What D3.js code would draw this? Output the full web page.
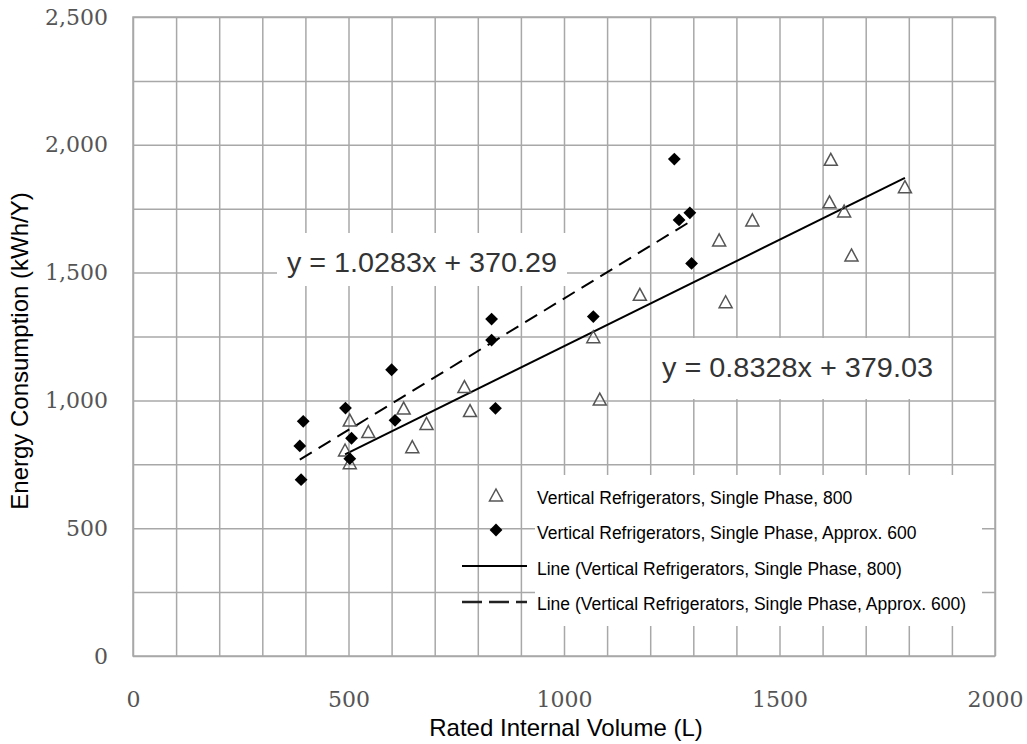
<!DOCTYPE html>
<html>
<head>
<meta charset="utf-8">
<script src="https://cdn.jsdelivr.net/npm/d3@7"></script>
<style>
  body { margin: 0; background: #fff; }
  svg { display: block; }
</style>
</head>
<body>
<svg id="chart" width="1027" height="744"></svg>
<script>
// series "Vertical Refrigerators, Single Phase, 800" (open triangles)
const volume800 = [492, 503, 503, 546, 628, 648, 681, 769, 782, 1068, 1083, 1176, 1360, 1375, 1437, 1616, 1619, 1650, 1667, 1791];
const energy800 = [806, 923, 756, 878, 970, 819, 910, 1054, 960, 1249, 1005, 1415, 1628, 1386, 1706, 1777, 1943, 1741, 1569, 1836];

// series "Vertical Refrigerators, Single Phase, Approx. 600" (filled diamonds)
const volume600 = [387, 390, 395, 493, 503, 507, 600, 608, 832, 832, 841, 1068, 1256, 1267, 1292, 1296];
const energy600 = [822, 690, 918, 970, 772, 852, 1120, 922, 1318, 1236, 969, 1328, 1944, 1706, 1734, 1536];

// trend lines as printed on the chart
const trend800 = { slope: 0.8328, intercept: 379.03 };
const trend600 = { slope: 1.0283, intercept: 370.29 };

const xTicks = [0, 500, 1000, 1500, 2000];
const yTicks = [0, 500, 1000, 1500, 2000, 2500];

const legendLabels = [
  "Vertical Refrigerators, Single Phase, 800",
  "Vertical Refrigerators, Single Phase, Approx. 600",
  "Line (Vertical Refrigerators, Single Phase, 800)",
  "Line (Vertical Refrigerators, Single Phase, Approx. 600)"
];

const svg = d3.select("#chart");
const sans = "'Liberation Sans', Arial, sans-serif";
const serif = "'DejaVu Serif', serif";
const gridColor = "#a8a8a8";

const plotLeft = 133, plotRight = 995, plotTop = 17, plotBottom = 656;

let x = d3.scaleLinear().domain([0, 2000]).range([plotLeft, plotRight]);
let y = d3.scaleLinear().domain([0, 2500]).range([plotBottom, plotTop]);

svg.append("rect").attr("width", 1027).attr("height", 744).attr("fill", "#fff");

// grid
svg.append("g")
  .attr("transform", `translate(0, ${plotBottom})`)
  .call(d3.axisBottom(x).tickValues(d3.range(0, 2001, 100)).tickSize(-(plotBottom - plotTop)).tickFormat(""))
  .call(g => g.select(".domain").remove())
  .selectAll("line").attr("stroke", gridColor).attr("stroke-width", 1.5);

svg.append("g")
  .attr("transform", `translate(${plotLeft}, 0)`)
  .call(d3.axisLeft(y).tickValues(d3.range(0, 2501, 250)).tickSize(-(plotRight - plotLeft)).tickFormat(""))
  .call(g => g.select(".domain").remove())
  .selectAll("line").attr("stroke", gridColor).attr("stroke-width", 1.5);

svg.append("rect")
  .attr("x", plotLeft).attr("y", plotTop)
  .attr("width", plotRight - plotLeft).attr("height", plotBottom - plotTop)
  .attr("fill", "none").attr("stroke", gridColor).attr("stroke-width", 1.5);

// white boxes behind the equations and legend text
const boxes = [
  { x0: 277, y0: 233, x1: 567, y1: 286 },
  { x0: 653, y0: 338, x1: 950, y1: 399 },
  { x0: 535, y0: 475, x1: 982, y1: 626 }
];
svg.selectAll(".box").data(boxes).join("rect")
  .attr("x", d => d.x0).attr("y", d => d.y0)
  .attr("width", d => d.x1 - d.x0).attr("height", d => d.y1 - d.y0)
  .attr("fill", "#fff");

// tick labels
svg.append("g")
  .attr("transform", `translate(${plotLeft}, 0)`)
  .call(d3.axisLeft(y).tickValues(yTicks).tickFormat(d3.format(",")).tickSize(0).tickPadding(25))
  .call(g => g.select(".domain").remove())
  .selectAll("text")
  .attr("font-family", serif).attr("font-size", 22).attr("fill", "#555");

svg.append("g")
  .attr("transform", `translate(0, ${plotBottom})`)
  .call(d3.axisBottom(x).tickValues(xTicks).tickFormat(d3.format("d")).tickSize(0).tickPadding(35))
  .call(g => g.select(".domain").remove())
  .selectAll("text")
  .attr("font-family", serif).attr("font-size", 22).attr("fill", "#555");

// axis titles
svg.append("text")
  .attr("transform", "translate(28, 351) rotate(-90)")
  .attr("text-anchor", "middle")
  .attr("font-family", sans).attr("font-size", 24)
  .text("Energy Consumption (kWh/Y)");

svg.append("text")
  .attr("x", 566).attr("y", 736)
  .attr("text-anchor", "middle")
  .attr("font-family", sans).attr("font-size", 24)
  .text("Rated Internal Volume (L)");

// trend lines
function trendPoints(xs, t) {
  return d3.extent(xs).map(v => [v, t.slope * v + t.intercept]);
}
let line = d3.line().x(d => x(d[0])).y(d => y(d[1]));

svg.append("path")
  .datum(trendPoints(volume800, trend800))
  .attr("d", line)
  .attr("fill", "none").attr("stroke", "#000").attr("stroke-width", 2);

svg.append("path")
  .datum(trendPoints(volume600, trend600))
  .attr("d", line)
  .attr("fill", "none").attr("stroke", "#000").attr("stroke-width", 2)
  .attr("stroke-dasharray", "14,8");

// markers
function triangle(w, h) {
  return `M0,${-h / 2}L${w / 2},${h / 2}L${-w / 2},${h / 2}Z`;
}
let diamond = d3.symbol().type(d3.symbolSquare).size(82)();

svg.append("g").selectAll("path")
  .data(volume800.map((v, i) => [v, energy800[i]]))
  .join("path")
  .attr("d", triangle(13, 12))
  .attr("transform", d => `translate(${x(d[0])}, ${y(d[1])})`)
  .attr("fill", "none").attr("stroke", "#555").attr("stroke-width", 1.5);

svg.append("g").selectAll("path")
  .data(volume600.map((v, i) => [v, energy600[i]]))
  .join("path")
  .attr("d", diamond)
  .attr("transform", d => `translate(${x(d[0])}, ${y(d[1])}) rotate(45)`)
  .attr("fill", "#000");

// equations
const equations = [
  { text: "y = 1.0283x + 370.29", x: 287, y: 272, len: 270 },
  { text: "y = 0.8328x + 379.03", x: 662, y: 377, len: 271 }
];
svg.selectAll(".eq").data(equations).join("text")
  .attr("x", d => d.x).attr("y", d => d.y)
  .attr("textLength", d => d.len).attr("lengthAdjust", "spacingAndGlyphs")
  .attr("font-family", sans).attr("font-size", 28).attr("fill", "#333")
  .text(d => d.text);

// legend
const legendX = 496, legendTextX = 537;
const legendY = [504, 539, 575, 610];
let legend = svg.append("g");

legend.append("path")
  .attr("d", triangle(13, 12))
  .attr("transform", `translate(${legendX}, ${legendY[0] - 9})`)
  .attr("fill", "none").attr("stroke", "#555").attr("stroke-width", 1.5);

legend.append("path")
  .attr("d", diamond)
  .attr("transform", `translate(${legendX}, ${legendY[1] - 9}) rotate(45)`)
  .attr("fill", "#000");

legend.append("line")
  .attr("x1", 462).attr("x2", 527)
  .attr("y1", legendY[2] - 9).attr("y2", legendY[2] - 9)
  .attr("stroke", "#000").attr("stroke-width", 2);

legend.append("line")
  .attr("x1", 462).attr("x2", 527)
  .attr("y1", legendY[3] - 8).attr("y2", legendY[3] - 8)
  .attr("stroke", "#222").attr("stroke-width", 2.5)
  .attr("stroke-dasharray", "20,7");

legend.selectAll(".lt").data(legendLabels).join("text")
  .attr("x", legendTextX)
  .attr("y", (d, i) => legendY[i])
  .attr("font-family", sans).attr("font-size", 17.5).attr("fill", "#000")
  .text(d => d);
</script>
</body>
</html>
